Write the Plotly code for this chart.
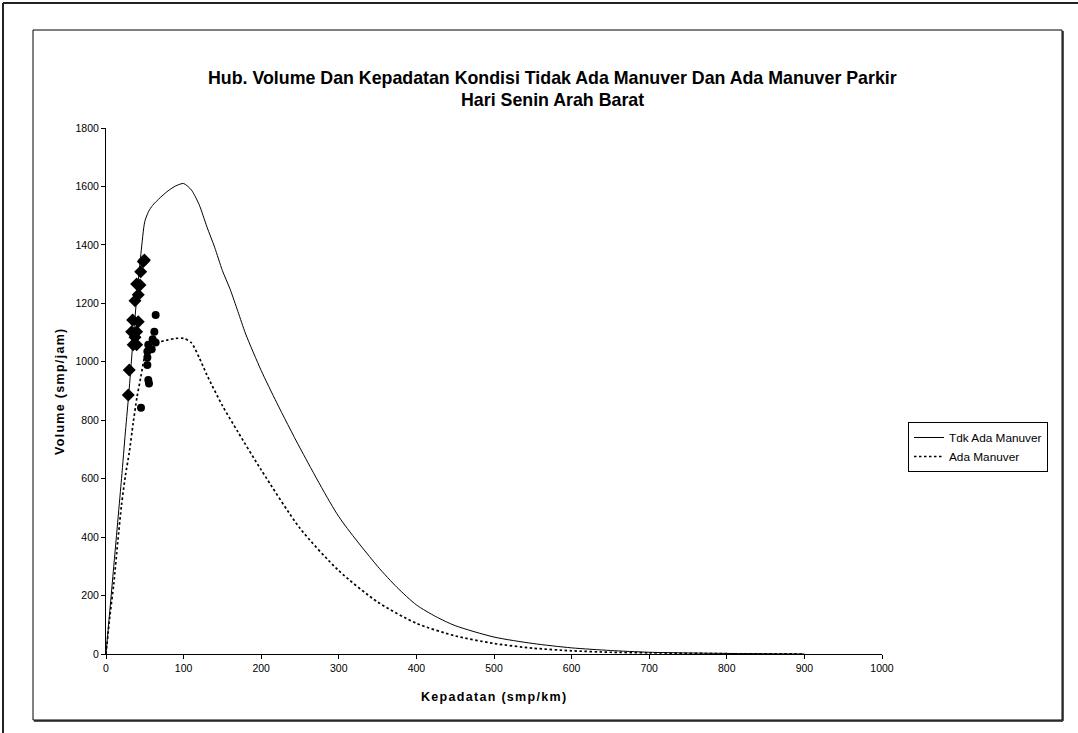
import plotly.graph_objects as go

# ---- data ----
k_tdk = [0, 5, 10, 20, 25, 30, 35, 40, 45, 50, 55, 60, 70, 80, 90, 100, 110, 120, 130, 140,
         150, 160, 170, 180, 200, 220, 250, 300, 350, 375, 400, 425, 450, 500, 550, 600, 650, 700, 800, 900]
q_tdk = [0, 150, 300, 600, 760, 910, 1080, 1230, 1370, 1480, 1515, 1535, 1562, 1585, 1602, 1610, 1588, 1538, 1462, 1392,
         1312, 1248, 1172, 1095, 970, 860, 705, 470, 300, 228, 168, 128, 97, 58, 36, 21, 12, 6, 2, 0]

k_ada = [0, 5, 10, 15, 20, 25, 30, 35, 40, 45, 50, 55, 65, 80, 90, 100, 110, 120, 130, 150,
         170, 200, 250, 300, 350, 400, 450, 500, 550, 600, 650, 700, 800, 900]
q_ada = [0, 130, 240, 380, 510, 610, 690, 790, 880, 950, 1020, 1055, 1065, 1075, 1080, 1080, 1065, 1015, 955, 850,
         760, 630, 430, 285, 178, 105, 62, 36, 20, 11, 6, 4, 1, 0]

k_obs_tdk = [28.7, 30, 35, 39.5, 37.4, 33, 39.5, 34.3, 41.6, 37.4, 41.6, 39.5, 43.8, 44.7, 48, 49.5]
q_obs_tdk = [886, 972, 1058, 1058, 1084, 1103, 1103, 1143, 1137, 1209, 1229, 1266, 1263, 1308, 1343, 1348]

k_obs_ada = [64, 62.3, 60.1, 64, 54.5, 58.9, 53.3, 53.3, 53.3, 54.5, 55.4, 45.1]
q_obs_ada = [1160, 1103, 1077, 1066, 1058, 1043, 1035, 1015, 989, 938, 926, 843]

title_lines = ["Hub. Volume Dan Kepadatan Kondisi Tidak Ada Manuver Dan Ada Manuver Parkir",
               "Hari Senin Arah Barat"]
x_title = "Kepadatan (smp/km)"
y_title = "Volume (smp/jam)"
series_names = ["Tdk Ada Manuver", "Ada Manuver"]

# ---- layout geometry (pixels) ----
W, H = 1078, 733
L, R, T, B = 106, 882, 128, 654
PW, PH = R - L, B - T


def px(x):
    return (x - L) / PW


def py(y):
    return (B - y) / PH


FONT = "Liberation Sans, Arial, sans-serif"

fig = go.Figure()
fig.add_trace(go.Scatter(x=k_tdk, y=q_tdk, mode="lines", name=series_names[0],
                         line=dict(color="black", width=1, shape="spline", smoothing=0.7)))
fig.add_trace(go.Scatter(x=k_ada, y=q_ada, mode="lines", name=series_names[1],
                         line=dict(color="black", width=1.7, dash="2.5px,2.5px", shape="spline", smoothing=0.7)))
fig.add_trace(go.Scatter(x=k_obs_tdk, y=q_obs_tdk, mode="markers", showlegend=False,
                         marker=dict(symbol="diamond", size=10, color="black")))
fig.add_trace(go.Scatter(x=k_obs_ada, y=q_obs_ada, mode="markers", showlegend=False,
                         marker=dict(symbol="circle", size=8, color="black")))

shapes = []
# outer frame (top & left edges visible)
shapes.append(dict(type="line", xref="paper", yref="paper", x0=px(3), x1=px(W + 5), y0=py(3), y1=py(3),
                   line=dict(color="#222", width=2)))
shapes.append(dict(type="line", xref="paper", yref="paper", x0=px(3), x1=px(3), y0=py(3), y1=py(H + 5),
                   line=dict(color="#222", width=2)))
# inner chart frame with shadow
shapes.append(dict(type="line", xref="paper", yref="paper", x0=px(1063), x1=px(1063), y0=py(31), y1=py(721),
                   line=dict(color="#555", width=2)))
shapes.append(dict(type="line", xref="paper", yref="paper", x0=px(34), x1=px(1063), y0=py(721), y1=py(721),
                   line=dict(color="#555", width=2)))
shapes.append(dict(type="rect", xref="paper", yref="paper", x0=px(33), x1=px(1062), y0=py(30), y1=py(720),
                   line=dict(color="black", width=1)))


def spaced(t):
    return '<span style="letter-spacing:1.3px"><b>' + t + '</b></span>'


annotations = [
    dict(text="<b>" + title_lines[0] + "</b>", x=px(552), y=py(78), xref="paper", yref="paper",
         showarrow=False, font=dict(family=FONT, size=17.8, color="black"), xanchor="center", yanchor="middle"),
    dict(text="<b>" + title_lines[1] + "</b>", x=px(552), y=py(100), xref="paper", yref="paper",
         showarrow=False, font=dict(family=FONT, size=17.8, color="black"), xanchor="center", yanchor="middle"),
    dict(text=spaced(x_title), x=0.5, y=py(697), xref="paper", yref="paper",
         showarrow=False, font=dict(family=FONT, size=12.5, color="black"), xanchor="center", yanchor="middle"),
    dict(text=spaced(y_title), x=px(60), y=0.5, xref="paper", yref="paper", textangle=-90,
         showarrow=False, font=dict(family=FONT, size=12.5, color="black"), xanchor="center", yanchor="middle"),
]

fig.update_layout(
    width=W, height=H,
    margin=dict(l=L, r=W - R, t=T, b=H - B, pad=0),
    paper_bgcolor="white", plot_bgcolor="white",
    font=dict(family=FONT, size=10, color="black"),
    showlegend=True,
    legend=dict(x=px(908), y=py(422), xanchor="left", yanchor="top",
                bordercolor="black", borderwidth=1, bgcolor="white",
                font=dict(family=FONT, size=11.8, color="black"),
                tracegroupgap=0, itemwidth=30),
    shapes=shapes,
    annotations=annotations,
)
fig.update_xaxes(range=[0, 1000], dtick=100, tick0=0, showgrid=False, zeroline=False,
                 showline=True, linecolor="black", linewidth=1, ticks="outside", ticklen=4,
                 tickcolor="black", tickfont=dict(family=FONT, size=10.5, color="black"))
fig.update_yaxes(range=[0, 1800], dtick=200, tick0=0, showgrid=False, zeroline=False,
                 showline=True, linecolor="black", linewidth=1, ticks="outside", ticklen=4,
                 tickcolor="black", tickfont=dict(family=FONT, size=10.5, color="black"))

fig.write_html("out.html")
